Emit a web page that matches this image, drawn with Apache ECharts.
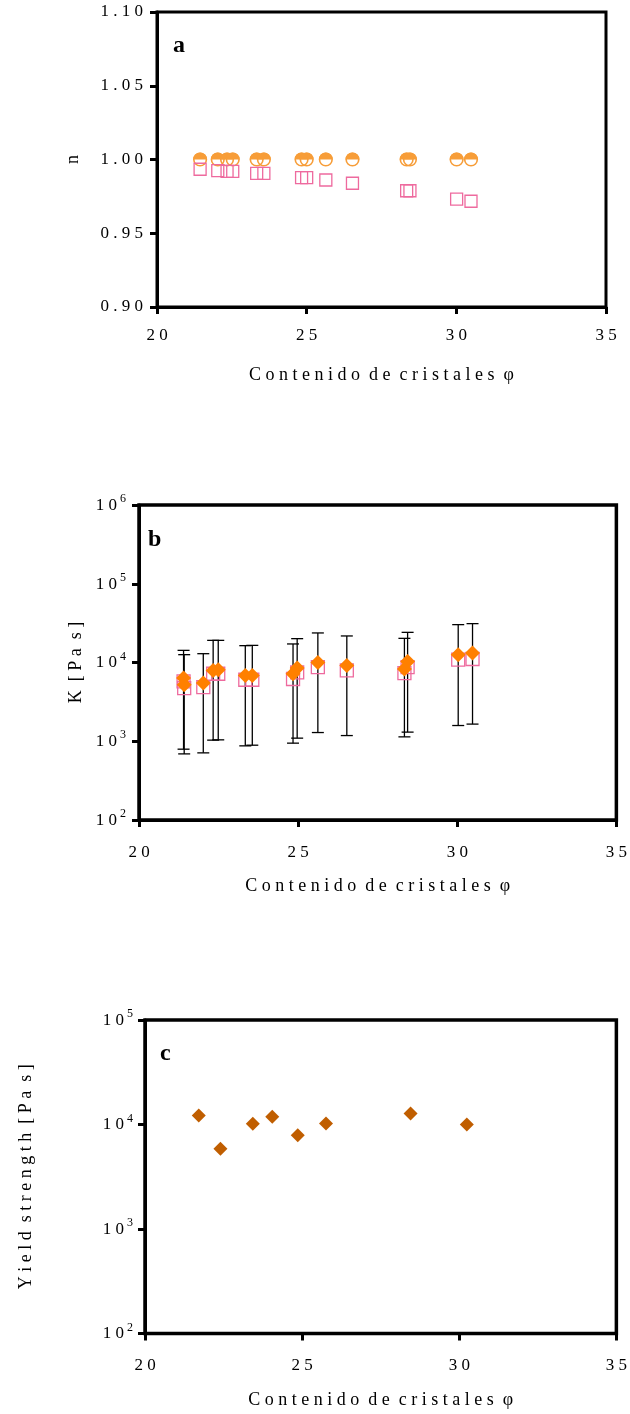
<!DOCTYPE html>
<html>
<head>
<meta charset="utf-8">
<script src="https://cdn.jsdelivr.net/npm/echarts@6/dist/echarts.min.js"></script>
<style>
  html, body { margin: 0; padding: 0; background: #fff; }
  #chart { width: 630px; height: 1414px; }
</style>
</head>
<body>
<div id="chart"></div>
<script>
// ---- data ----------------------------------------------------------------
// (a) flow index n vs crystal content
const phiA = [21.44, 22.03, 22.34, 22.53, 23.33, 23.57, 24.83, 25.00, 25.64, 26.53, 28.34, 28.45, 30.01, 30.49];
const nCircle = [1.00, 1.00, 1.00, 1.00, 1.00, 1.00, 1.00, 1.00, 1.00, 1.00, 1.00, 1.00, 1.00, 1.00];
const nSquare = [0.9934, 0.9924, 0.9920, 0.9920, 0.9906, 0.9906, 0.9877, 0.9877, 0.9861, 0.9839, 0.9788, 0.9788, 0.9732, 0.9717];

// (b) consistency K [Pa s] with error bars
const phiB = [21.40, 21.42, 22.02, 22.33, 22.49, 23.34, 23.56, 24.84, 24.97, 25.62, 26.53, 28.34, 28.44, 30.03, 30.48];
const kDiamond = [6350, 5220, 5490, 7930, 8100, 6850, 6850, 7200, 8510, 10030, 9190, 8270, 10330, 12570, 13210];
const kSquare = [5750, 4740, 4880, 7200, 7200, 6040, 6040, 6170, 7480, 8760, 7930, 7350, 8760, 10850, 11080];
const kHigh = [14260, 12570, 12940, 19100, 19100, 16360, 16500, 17200, 20080, 23730, 21730, 20260, 24150, 30260, 31160];
const kLow = [793, 691, 712, 1033, 1042, 874, 891, 946, 1095, 1290, 1181, 1137, 1306, 1584, 1651];

// (c) yield strength
const phiC = [21.71, 22.40, 23.43, 24.05, 24.86, 25.76, 28.45, 30.24];
const yieldC = [12190, 5850, 10140, 11830, 7910, 10220, 12740, 10000];

// axis ranges / ticks
const xTicks = [20, 25, 30, 35];
const nTicks = [0.90, 0.95, 1.00, 1.05, 1.10];
const xTitle = 'Contenido de cristales φ';
const yTitles = ['n', 'K [Pa s]', 'Yield strength [Pa s]'];
const panelTags = ['a', 'b', 'c'];

// ---- styling helpers -------------------------------------------------------
const SERIF = '"Liberation Serif", "DejaVu Serif", serif';
const ORANGE_LIGHT = '#f79d38';
const ORANGE = '#ff8000';
const ORANGE_DARK = '#c05e00';
const PINK = '#ee6a9e';

// wide letter spacing, as in the printed figure
function spaced(s) {
  return s.split(' ').map(w => Array.from(w).join(' ')).join('  ');
}
function powLabel(v) {
  const e = Math.round(Math.log10(v));
  return '{b|1 0}{s|' + e + '}';
}
const powRich = {
  b: { fontFamily: SERIF, fontSize: 17, color: '#000', lineHeight: 18, verticalAlign: 'bottom' },
  s: { fontFamily: SERIF, fontSize: 12, color: '#000', lineHeight: 12, padding: [0, 0, 9, 3], verticalAlign: 'bottom' }
};

const axisLine = { show: true, onZero: false, lineStyle: { color: '#000', width: 3 } };
const axisTick = { show: true, inside: false, length: 7, lineStyle: { color: '#000', width: 3 } };
const nameStyle = { fontFamily: SERIF, fontSize: 18, color: '#000' };

function xAxisFor(gridIndex, gap, labelMargin) {
  return {
    type: 'value', gridIndex, min: xTicks[0], max: xTicks[xTicks.length - 1], interval: 5,
    axisLine, axisTick, splitLine: { show: false },
    axisLabel: { margin: labelMargin, fontFamily: SERIF, fontSize: 17, color: '#000',
      formatter: v => spaced(String(v)) },
    name: spaced(xTitle), nameLocation: 'middle', nameGap: gap, nameTextStyle: nameStyle
  };
}

const option = {
  animation: false,
  backgroundColor: '#fff',
  grid: [
    { left: 157, top: 12, width: 449, height: 295, show: true, borderColor: '#000', borderWidth: 3, backgroundColor: 'transparent' },
    { left: 139, top: 505, width: 479, height: 315, show: true, borderColor: '#000', borderWidth: 3.5, backgroundColor: 'transparent' },
    { left: 145, top: 1020, width: 474, height: 313.5, show: true, borderColor: '#000', borderWidth: 3.5, backgroundColor: 'transparent' }
  ],
  xAxis: [
    xAxisFor(0, 59, 20),
    xAxisFor(1, 57, 24),
    xAxisFor(2, 58, 24)
  ],
  yAxis: [
    {
      type: 'value', gridIndex: 0, min: nTicks[0], max: nTicks[nTicks.length - 1], interval: 0.05,
      axisLine, axisTick, splitLine: { show: false },
      axisLabel: { margin: 14, fontFamily: SERIF, fontSize: 17, color: '#000',
        formatter: v => spaced(v.toFixed(2)) },
      name: spaced(yTitles[0]), nameLocation: 'middle', nameRotate: 90, nameGap: 75, nameTextStyle: nameStyle
    },
    {
      type: 'log', logBase: 10, gridIndex: 1, min: 1e2, max: 1e6,
      axisLine, axisTick, splitLine: { show: false }, minorTick: { show: false },
      axisLabel: { margin: 13, formatter: powLabel, rich: powRich },
      name: spaced(yTitles[1]), nameLocation: 'middle', nameRotate: 90, nameGap: 31, nameTextStyle: nameStyle
    },
    {
      type: 'log', logBase: 10, gridIndex: 2, min: 1e2, max: 1e5,
      axisLine, axisTick, splitLine: { show: false }, minorTick: { show: false },
      axisLabel: { margin: 12, formatter: powLabel, rich: powRich },
      name: spaced(yTitles[2]), nameLocation: 'middle', nameRotate: 90, nameGap: 110, nameTextStyle: nameStyle
    }
  ],
  graphic: [
    { type: 'text', left: 173, top: 34, style: { text: panelTags[0], font: 'bold 24px ' + SERIF, fill: '#000' } },
    { type: 'text', left: 148, top: 528, style: { text: panelTags[1], font: 'bold 24px ' + SERIF, fill: '#000' } },
    { type: 'text', left: 160, top: 1042, style: { text: panelTags[2], font: 'bold 24px ' + SERIF, fill: '#000' } }
  ],
  series: [
    // (a) open squares
    {
      type: 'scatter', xAxisIndex: 0, yAxisIndex: 0, symbol: 'rect', symbolSize: 12,
      itemStyle: { color: 'rgba(255,255,255,0)', borderColor: PINK, borderWidth: 1.3, opacity: 1 },
      data: phiA.map((x, i) => [x, nSquare[i]])
    },
    // (a) half-filled circles: outline plus a filled upper half
    {
      type: 'custom', xAxisIndex: 0, yAxisIndex: 0,
      data: phiA.map((x, i) => [x, nCircle[i]]),
      renderItem: function (params, api) {
        const p = api.coord([api.value(0), api.value(1)]);
        const r = 6.3;
        return {
          type: 'group',
          children: [
            { type: 'circle', shape: { cx: p[0], cy: p[1], r: r }, style: { fill: 'none', stroke: ORANGE_LIGHT, lineWidth: 1.6 } },
            { type: 'sector', shape: { cx: p[0], cy: p[1], r0: 0, r: r + 0.6, startAngle: Math.PI, endAngle: 2 * Math.PI, clockwise: true },
              style: { fill: ORANGE_LIGHT } }
          ]
        };
      }
    },
    // (b) error bars
    {
      type: 'custom', xAxisIndex: 1, yAxisIndex: 1,
      data: phiB.map((x, i) => [x, kLow[i], kHigh[i]]),
      encode: { x: 0, y: [1, 2] },
      renderItem: function (params, api) {
        const lo = api.coord([api.value(0), api.value(1)]);
        const hi = api.coord([api.value(0), api.value(2)]);
        const cap = 6;
        const st = { stroke: '#000', lineWidth: 1.3 };
        return {
          type: 'group',
          children: [
            { type: 'line', shape: { x1: lo[0], y1: lo[1], x2: hi[0], y2: hi[1] }, style: st },
            { type: 'line', shape: { x1: hi[0] - cap, y1: hi[1], x2: hi[0] + cap, y2: hi[1] }, style: st },
            { type: 'line', shape: { x1: lo[0] - cap, y1: lo[1], x2: lo[0] + cap, y2: lo[1] }, style: st }
          ]
        };
      }
    },
    {
      type: 'scatter', xAxisIndex: 1, yAxisIndex: 1, symbol: 'rect', symbolSize: 13,
      itemStyle: { color: 'rgba(255,255,255,0)', borderColor: PINK, borderWidth: 1.3, opacity: 1 },
      data: phiB.map((x, i) => [x, kSquare[i]])
    },
    {
      type: 'scatter', xAxisIndex: 1, yAxisIndex: 1, symbol: 'diamond', symbolSize: 15,
      itemStyle: { color: ORANGE, opacity: 1 },
      data: phiB.map((x, i) => [x, kDiamond[i]])
    },
    // (c)
    {
      type: 'scatter', xAxisIndex: 2, yAxisIndex: 2, symbol: 'diamond', symbolSize: 14,
      itemStyle: { color: ORANGE_DARK, opacity: 1 },
      data: phiC.map((x, i) => [x, yieldC[i]])
    }
  ]
};

const chart = echarts.init(document.getElementById('chart'), null, { renderer: 'canvas' });
chart.setOption(option);
</script>
</body>
</html>
